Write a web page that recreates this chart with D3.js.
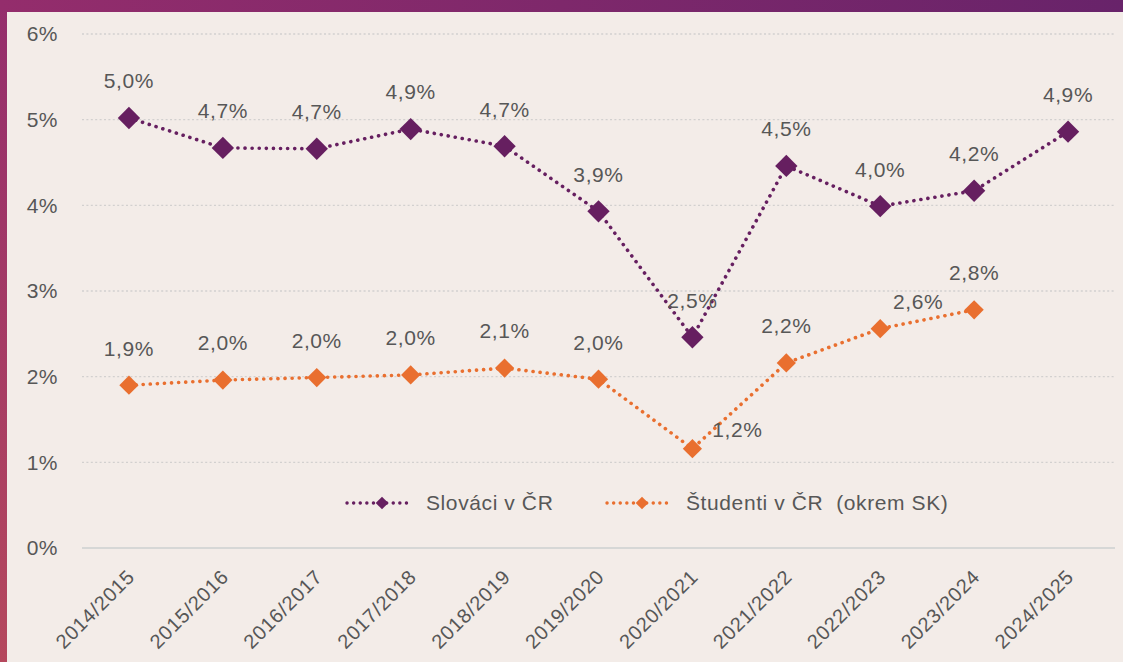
<script src="https://d3js.org/d3.v7.min.js"></script>
<style>
    body { margin: 0; background: #f3ece8; }
    svg { display: block; font-family: "Liberation Sans", Arial, sans-serif; }
</style>

<svg width="1123" height="662"></svg>

<script>
    const years = ["2014/2015", "2015/2016", "2016/2017", "2017/2018", "2018/2019", "2019/2020",
        "2020/2021", "2021/2022", "2022/2023", "2023/2024", "2024/2025"];
    const slovaci = [5.02, 4.67, 4.66, 4.89, 4.69, 3.93, 2.46, 4.46, 3.99, 4.17, 4.86];
    const studenti = [1.90, 1.96, 1.99, 2.02, 2.10, 1.97, 1.16, 2.16, 2.56, 2.78, null];
    const yTicks = [0, 1, 2, 3, 4, 5, 6];
    const seriesNames = ["Slováci v ČR", "Študenti v ČR  (okrem SK)"];

    const W = 1123, H = 662;
    const svg = d3.select("svg");

    // frame + panel
    const defs = svg.append("defs");
    const gTop = defs.append("linearGradient").attr("id", "gtop");
    gTop.append("stop").attr("offset", 0).attr("stop-color", "#942d6c");
    gTop.append("stop").attr("offset", 1).attr("stop-color", "#68236a");
    const gLeft = defs.append("linearGradient").attr("id", "gleft").attr("x2", 0).attr("y2", 1);
    gLeft.append("stop").attr("offset", 0).attr("stop-color", "#942d6c");
    gLeft.append("stop").attr("offset", 1).attr("stop-color", "#b5485d");
    svg.append("rect").attr("width", 7).attr("height", H).attr("fill", "url(#gleft)");
    svg.append("rect").attr("width", W).attr("height", 12).attr("fill", "url(#gtop)");
    svg.append("rect").attr("x", 7).attr("y", 12).attr("width", W - 7).attr("height", H - 12).attr("fill", "#f3ece8");

    const x = d3.scalePoint().domain(years).range([82, 1115]).padding(0.5);
    const y = d3.scaleLinear().domain([0, 6]).range([548, 34]);

    const textCol = "#575757";
    const fmt = v => v.toFixed(1).replace(".", ",") + "%";

    // grid
    svg.append("g").selectAll("line")
        .data(yTicks)
        .enter().append("line")
        .attr("x1", 82).attr("x2", 1115)
        .attr("y1", d => y(d)).attr("y2", d => y(d))
        .attr("stroke", d => d === 0 ? "#cdd1d1" : "#d2d0cf")
        .attr("stroke-width", d => d === 0 ? 1.6 : 1.4)
        .attr("stroke-dasharray", d => d === 0 ? null : "2,2.4");

    // y labels
    svg.append("g").selectAll("text")
        .data(yTicks)
        .enter().append("text")
        .attr("x", 58).attr("y", d => y(d))
        .attr("dy", "0.35em")
        .attr("text-anchor", "end")
        .attr("font-size", 21).attr("letter-spacing", 0.5)
        .attr("fill", textCol)
        .text(d => d + "%");

    // x labels
    svg.append("g").selectAll("text")
        .data(years)
        .enter().append("text")
        .attr("transform", d => `translate(${x(d) + 7},${578}) rotate(-45)`)
        .attr("text-anchor", "end")
        .attr("font-size", 20).attr("letter-spacing", 0.8)
        .attr("fill", textCol)
        .text(d => d);

    const series = [
        { name: seriesNames[0], values: slovaci, color: "#661f60", size: 250 },
        { name: seriesNames[1], values: studenti, color: "#e96f2f", size: 185 }
    ];

    // label nudges (dx, dy of label centre relative to marker)
    const nudge = { "1:2020/2021": [45, -19], "1:2022/2023": [38, -27] };

    const line = d3.line()
        .defined(d => d.v != null)
        .x(d => x(d.year)).y(d => y(d.v));

    const diamond = d3.symbol().type(d3.symbolSquare);

    series.forEach((s, si) => {
        const pts = years.map((yr, i) => ({ year: yr, v: s.values[i] }));
        const g = svg.append("g");
        g.append("path")
            .datum(pts)
            .attr("fill", "none")
            .attr("stroke", s.color)
            .attr("stroke-width", 3.6)
            .attr("stroke-linecap", "round")
            .attr("stroke-dasharray", "0.1,7")
            .attr("d", line);
        const valid = pts.filter(d => d.v != null);
        g.selectAll("path.m")
            .data(valid)
            .enter().append("path").attr("class", "m")
            .attr("transform", d => `translate(${x(d.year)},${y(d.v)}) rotate(45)`)
            .attr("d", diamond.size(s.size)())
            .attr("fill", s.color);
        g.selectAll("text")
            .data(valid)
            .enter().append("text")
            .attr("x", d => x(d.year) + (nudge[si + ":" + d.year] || [0, -37])[0])
            .attr("y", d => y(d.v) + (nudge[si + ":" + d.year] || [0, -37])[1])
            .attr("dy", "0.35em")
            .attr("text-anchor", "middle")
            .attr("font-size", 21).attr("letter-spacing", 0.6)
            .attr("fill", textCol)
            .text(d => fmt(d.v));
    });

    // legend
    const legX = [347, 607];
    const leg = svg.append("g").selectAll("g")
        .data(series)
        .enter().append("g")
        .attr("transform", (d, i) => `translate(${legX[i]},503)`);
    leg.append("line")
        .attr("x1", 0).attr("x2", 65)
        .attr("stroke", d => d.color)
        .attr("stroke-width", 3.4)
        .attr("stroke-linecap", "round")
        .attr("stroke-dasharray", "0.1,6.5");
    leg.append("path")
        .attr("transform", "translate(35,0) rotate(45)")
        .attr("d", diamond.size(80)())
        .attr("fill", d => d.color);
    leg.append("text")
        .attr("x", 79).attr("dy", "0.35em")
        .attr("font-size", 21).attr("letter-spacing", 0.6)
        .attr("fill", textCol)
        .style("white-space", "pre")
        .text(d => d.name);
</script>
